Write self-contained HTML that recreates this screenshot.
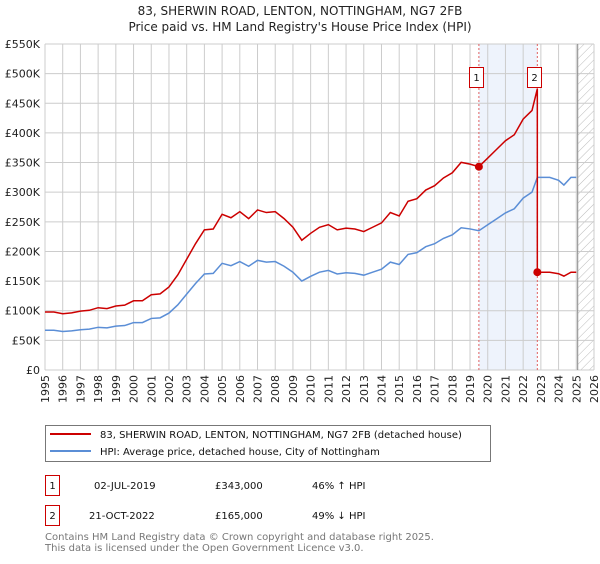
<!DOCTYPE html>
<html><head><meta charset="utf-8"><style>
body{margin:0;background:#fff;width:600px;height:560px;overflow:hidden;font-family:"DejaVu Sans","Liberation Sans",sans-serif}
svg text{font-family:"DejaVu Sans","Liberation Sans",sans-serif}
</style></head><body>
<svg id="chart" width="600" height="560" viewBox="0 0 600 560">
<defs><pattern id="hatch" width="6" height="6" patternUnits="userSpaceOnUse" patternTransform="rotate(45)"><line x1="0" y1="0" x2="0" y2="6" stroke="#bbb" stroke-width="1"/></pattern></defs>
<text x="300" y="15" text-anchor="middle" font-size="12" fill="#222">83, SHERWIN ROAD, LENTON, NOTTINGHAM, NG7 2FB</text>
<text x="300" y="31" text-anchor="middle" font-size="12" fill="#222">Price paid vs. HM Land Registry's House Price Index (HPI)</text>
<g id="grid"></g><g id="marks"></g><g id="axes"></g>
<g>
<rect x="45.5" y="425.5" width="445" height="36" fill="#fff" stroke="#777"/>
<line x1="50" y1="434" x2="91" y2="434" stroke="#cc0000" stroke-width="2"/>
<text x="100" y="438" font-size="10" fill="#111">83, SHERWIN ROAD, LENTON, NOTTINGHAM, NG7 2FB (detached house)</text>
<line x1="50" y1="451" x2="91" y2="451" stroke="#5b8ed6" stroke-width="2"/>
<text x="100" y="455" font-size="10" fill="#111">HPI: Average price, detached house, City of Nottingham</text>
</g>
<g font-size="10" fill="#111">
<rect x="45.5" y="475.5" width="14" height="20" fill="#fff" stroke="#cc0000"/>
<text x="52.5" y="489" text-anchor="middle">1</text>
<text x="94" y="489">02-JUL-2019</text>
<text x="215" y="489">£343,000</text>
<text x="312" y="489">46% ↑ HPI</text>
<rect x="45.5" y="505.5" width="14" height="20" fill="#fff" stroke="#cc0000"/>
<text x="52.5" y="519" text-anchor="middle">2</text>
<text x="89" y="519">21-OCT-2022</text>
<text x="215" y="519">£165,000</text>
<text x="312" y="519">49% ↓ HPI</text>
</g>
<text x="45" y="540" font-size="10" fill="#777">Contains HM Land Registry data © Crown copyright and database right 2025.</text>
<text x="45" y="551" font-size="10" fill="#777">This data is licensed under the Open Government Licence v3.0.</text>
</svg>
<script>
const hpiYears=[1995,1995.5,1996,1996.5,1997,1997.5,1998,1998.5,1999,1999.5,2000,2000.5,2001,2001.5,2002,2002.5,2003,2003.5,2004,2004.5,2005,2005.5,2006,2006.5,2007,2007.5,2008,2008.5,2009,2009.5,2010,2010.5,2011,2011.5,2012,2012.5,2013,2013.5,2014,2014.5,2015,2015.5,2016,2016.5,2017,2017.5,2018,2018.5,2019,2019.5,2020,2020.5,2021,2021.5,2022,2022.5,2022.8,2023,2023.5,2024,2024.3,2024.7,2025];
const hpiValues=[67,67,65,66,68,69,72,71,74,75,80,80,87,88,96,110,128,146,162,163,180,176,183,175,185,182,183,175,165,150,158,165,168,162,164,163,160,165,170,182,178,195,198,208,213,222,228,240,238,235,245,255,265,272,290,300,325,325,325,320,312,325,325];
const saleYears=[2019.5,2022.8];
const salePrices=[343,165];
const saleLabels=["1","2"];
const yTicks=[0,50,100,150,200,250,300,350,400,450,500,550];
const yTickLabels=["£0","£50K","£100K","£150K","£200K","£250K","£300K","£350K","£400K","£450K","£500K","£550K"];
const xTicks=[1995,1996,1997,1998,1999,2000,2001,2002,2003,2004,2005,2006,2007,2008,2009,2010,2011,2012,2013,2014,2015,2016,2017,2018,2019,2020,2021,2022,2023,2024,2025,2026];
const NS="http://www.w3.org/2000/svg";
const X0=45,X1=594,Y0=370,Y1=44;
const x=t=>X0+(t-1995)/(2026-1995)*(X1-X0);
const y=v=>Y0-v/550*(Y0-Y1);
function mk(tag,attrs,parent){const e=document.createElementNS(NS,tag);for(const k in attrs)e.setAttribute(k,attrs[k]);parent.appendChild(e);return e;}
const grid=document.getElementById('grid'),marks=document.getElementById('marks'),axes=document.getElementById('axes');
const sh=mk('rect',{x:x(saleYears[0]),y:Y1,width:x(saleYears[1])-x(saleYears[0]),height:Y0-Y1,fill:'#eef3fc'},grid);


const ht=mk('rect',{x:x(2025.08),y:Y1,width:X1-x(2025.08),height:Y0-Y1,fill:'url(#hatch)'},grid);


yTicks.forEach((v,i)=>{
 const l=mk('line',{x1:X0,x2:X1,y1:y(v),y2:y(v),stroke:'#ccc','stroke-width':1},grid);
 
 
 const t=mk('text',{x:40,y:y(v)+4,'text-anchor':'end','font-size':11,fill:'#222'},axes);
 t.textContent=yTickLabels[i];
 
 
});
xTicks.forEach(yr=>{
 const l=mk('line',{x1:x(yr),x2:x(yr),y1:Y1,y2:Y0,stroke:'#ccc','stroke-width':1},grid);
 
 
 const t=mk('text',{x:0,y:0,'text-anchor':'end','font-size':11,fill:'#222',transform:`translate(${x(yr)+4},375) rotate(-90)`},axes);
 t.textContent=yr;
 
 
});
const fl=mk('line',{x1:x(2025.08),x2:x(2025.08),y1:Y1,y2:Y0,stroke:'#888','stroke-width':1},grid);


saleYears.forEach(s=>{
 const l=mk('line',{x1:x(s),x2:x(s),y1:Y1,y2:Y0,stroke:'#e06060','stroke-width':1,'stroke-dasharray':'2,2'},grid);
 
 
});
const hp=mk('polyline',{points:hpiYears.map((t,i)=>x(t)+','+y(hpiValues[i])).join(' '),fill:'none',stroke:'#5b8ed6','stroke-width':1.5},marks);


function hpiAt(t){for(let i=1;i<hpiYears.length;i++){if(t<=hpiYears[i]){const a=hpiYears[i-1],b=hpiYears[i];return hpiValues[i-1]+(hpiValues[i]-hpiValues[i-1])*(t-a)/(b-a);}}return hpiValues[hpiValues.length-1];}
const r1=salePrices[0]/hpiAt(saleYears[0]),r2=salePrices[1]/hpiAt(saleYears[1]);
const pts=[];
hpiYears.forEach((t,i)=>{if(t<=saleYears[1])pts.push([t,hpiValues[i]*r1]);});
pts.push([saleYears[1],hpiAt(saleYears[1])*r1]);
pts.push([saleYears[1],salePrices[1]]);
hpiYears.forEach((t,i)=>{if(t>saleYears[1])pts.push([t,hpiValues[i]*r2]);});
const pl=mk('polyline',{points:pts.map(p=>x(p[0])+','+y(p[1])).join(' '),fill:'none',stroke:'#cc0000','stroke-width':1.5},marks);


saleYears.forEach((s,i)=>{
 const c=mk('circle',{cx:x(s),cy:y(salePrices[i]),r:4,fill:'#cc0000'},marks);
 
 
 const b=mk('rect',{x:Math.round(x(s))-9.5,y:67.5,width:14,height:20,fill:'#fff',stroke:'#cc0000'},marks);
 
 
 const t=mk('text',{x:Math.round(x(s))-2.5,y:81,'text-anchor':'middle','font-size':10,fill:'#111'},marks);
 t.textContent=saleLabels[i];
 
 
});
</script>
</body></html>
